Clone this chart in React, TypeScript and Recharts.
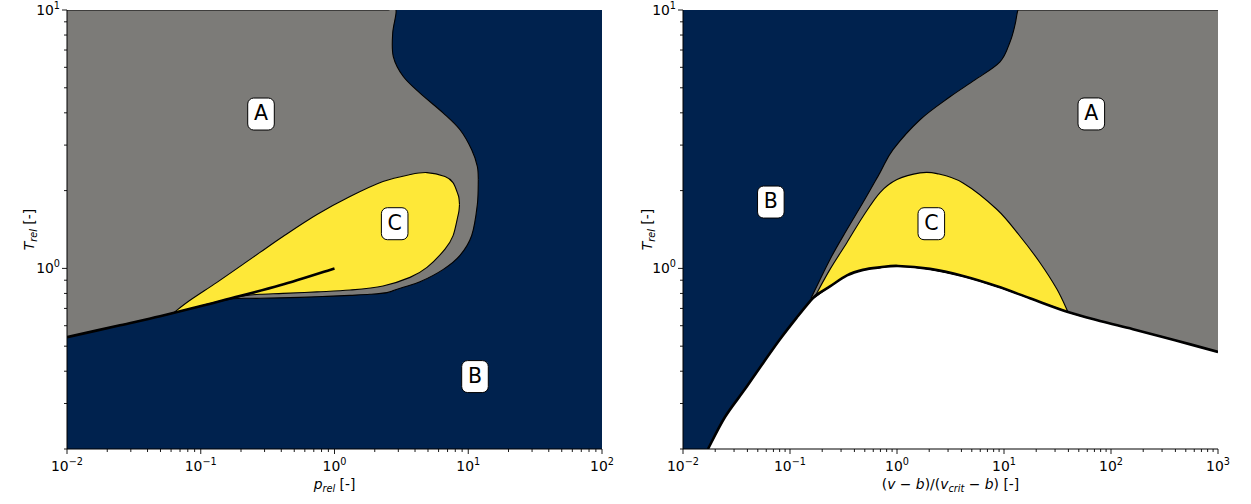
import React from 'react';
import { ComposedChart, Area, Line, Scatter, XAxis, YAxis } from 'recharts';

const NAVY = '#00224e';
const GRAY = '#7c7b78';
const YELLOW = '#fee838';
const FONT = '"DejaVu Sans", sans-serif';
const FS = 13.9;
const FS_SUB = 9.7;

// ---------- axes ----------
const leftXDomain = [0.01, 100];
const rightXDomain = [0.01, 1000];
const yDomain = [0.2, 10];
const leftXMajor = [0.01, 0.1, 1, 10, 100];
const rightXMajor = [0.01, 0.1, 1, 10, 100, 1000];
const yMajor = [0.1, 1, 10];

// ---------- left panel (p_rel, T_rel) ----------
const leftGrayP = [0.01, 0.0249, 0.0496, 0.0987, 0.1742, 0.2773, 0.5522, 0.8788, 1.306, 1.842, 2.469, 2.883, 2.724, 2.752, 3.268, 4.358, 6.509, 8.676, 10.61, 11.69, 11.89];
const leftGrayLow = [0.5417, 0.6024, 0.6527, 0.7133, 0.7625, 0.7659, 0.7727, 0.7796, 0.7866, 0.7937, 0.8056, 0.8276, 0.8194, 0.8209, 0.8446, 0.8869, 0.9911, 1.123, 1.341, 1.766, 2.206];
const leftGrayHigh = [10, 10, 10, 10, 10, 10, 10, 10, 10, 10, 10, 10, 8.151, 6.601, 5.527, 4.769, 3.992, 3.441, 2.88, 2.483, 2.206];

const leftYellowP = [0.06202, 0.08311, 0.1322, 0.2142, 0.2773, 0.4121, 0.7398, 1.306, 2.305, 3.668, 4.916, 6.702, 7.691, 8.383, 8.527, 8.602];
const leftYellowLow = [0.6704, 0.6977, 0.7425, 0.7831, 0.7937, 0.8006, 0.8114, 0.8245, 0.855, 0.9231, 1.009, 1.187, 1.336, 1.602, 1.675, 1.766];
const leftYellowHigh = [0.6704, 0.7524, 0.8829, 1.05, 1.153, 1.329, 1.616, 1.897, 2.168, 2.307, 2.348, 2.266, 2.148, 1.931, 1.863, 1.766];

const leftCoexP = [0.01, 0.0249, 0.0496, 0.0987, 0.1572, 0.3914, 1.0];
const leftCoexT = [0.5417, 0.6024, 0.6527, 0.7133, 0.759, 0.8597, 1.0];

const leftLabels = [
  { x: 0.2822, y: 3.957, label: 'A' },
  { x: 11.23, y: 0.3813, label: 'B' },
  { x: 2.818, y: 1.489, label: 'C' },
];

// ---------- right panel ((v-b)/(v_crit-b), T_rel) ----------
const rightBinodalV = [0.01713, 0.02469, 0.03798, 0.05594, 0.08062, 0.1162, 0.1538, 0.175, 0.2365, 0.3409, 0.481, 0.6938, 1.022, 2.034, 4.139, 8.602, 17.5, 39.63, 78.92, 160.6, 396.3, 1000];
const rightBinodalT = [0.2, 0.2659, 0.341, 0.4297, 0.532, 0.6468, 0.7456, 0.7866, 0.8521, 0.9397, 0.9868, 1.009, 1.022, 0.9956, 0.9338, 0.8521, 0.7659, 0.6779, 0.626, 0.5815, 0.5272, 0.4751];

const rightGrayV = [0.1572, 0.2365, 0.3409, 0.481, 0.6938, 0.9175, 1.641, 3.128, 5.358, 9.175, 11.38, 12.67, 13.52, 14.73, 39.63, 78.92, 160.6, 396.3, 1000];
const rightGrayLow = [0.7524, 0.8521, 0.9397, 0.9868, 1.009, 1.019, 1.004, 0.9573, 0.9044, 0.8437, 0.8175, 0.8042, 0.7967, 0.7874, 0.6779, 0.626, 0.5815, 0.5272, 0.4751];
const rightGrayHigh = [0.7659, 1.083, 1.414, 1.798, 2.348, 2.88, 3.761, 4.614, 5.366, 6.299, 7.522, 8.752, 10, 10, 10, 10, 10, 10, 10];

const rightYellowV = [0.1713, 0.2365, 0.3409, 0.481, 0.6938, 1.0, 1.641, 2.365, 4.139, 8.602, 14.11, 21.7, 31.28, 39.63];
const rightYellowLow = [0.7796, 0.8521, 0.9397, 0.9868, 1.009, 1.021, 1.004, 0.9824, 0.9338, 0.8521, 0.7907, 0.7418, 0.7021, 0.6779];
const rightYellowHigh = [0.7796, 0.9911, 1.26, 1.588, 1.965, 2.206, 2.342, 2.327, 2.142, 1.69, 1.332, 1.052, 0.8297, 0.6779];

const rightLabels = [
  { x: 65.45, y: 3.96, label: 'A' },
  { x: 0.0662, y: 1.806, label: 'B' },
  { x: 2.092, y: 1.489, label: 'C' },
];

// ---------- helpers ----------
const toRange = (xs: number[], lo: number[], hi: number[]) => xs.map((x, i) => ({ x, r: [lo[i], hi[i]] }));
const toLine = (xs: number[], ys: number[]) => xs.map((x, i) => ({ x, y: ys[i] }));
const fullRange = (dom: number[]) => [{ x: dom[0], r: [yDomain[0], yDomain[1]] }, { x: dom[1], r: [yDomain[0], yDomain[1]] }];

const withMinor = (majors: number[], lo: number, hi: number) => {
  const out: number[] = [];
  majors.forEach((m) => {
    for (let k = 1; k < 10; k++) {
      const v = +(m * k).toPrecision(6);
      if (v >= lo * 0.9999 && v <= hi * 1.0001) out.push(v);
    }
  });
  return out;
};

// smooth (Catmull-Rom) curve factory, parametric so it copes with any point order
function smoothCurve(context: any) {
  let pts: number[][] = [];
  let line = NaN;
  return {
    areaStart() { line = 0; },
    areaEnd() { line = NaN; },
    lineStart() { pts = []; },
    lineEnd() {
      const n = pts.length;
      if (n) {
        if (line === 1) context.lineTo(pts[0][0], pts[0][1]);
        else context.moveTo(pts[0][0], pts[0][1]);
        for (let i = 0; i < n - 1; i++) {
          const p0 = pts[Math.max(i - 1, 0)];
          const p1 = pts[i];
          const p2 = pts[i + 1];
          const p3 = pts[Math.min(i + 2, n - 1)];
          context.bezierCurveTo(
            p1[0] + (p2[0] - p0[0]) / 6, p1[1] + (p2[1] - p0[1]) / 6,
            p2[0] - (p3[0] - p1[0]) / 6, p2[1] - (p3[1] - p1[1]) / 6,
            p2[0], p2[1]
          );
        }
      }
      if (line === 1) context.closePath();
      line = 1 - line;
    },
    point(x: number, y: number) { pts.push([+x, +y]); },
  };
}

const isMajor = (v: number) => {
  const e = Math.log10(v);
  return Math.abs(e - Math.round(e)) < 1e-6;
};
const expStr = (v: number) => {
  const e = Math.round(Math.log10(v));
  return e < 0 ? '\u2212' + Math.abs(e) : String(e);
};

const XTick = (props: any) => {
  const { x, y, payload } = props;
  const v = payload.value;
  const major = isMajor(v);
  return (
    <g>
      <line x1={x} x2={x} y1={y} y2={y + (major ? 5 : 3)} stroke="#000" strokeWidth={0.9} />
      {major && (
        <text x={x} y={y + 22} textAnchor="middle" fontFamily={FONT} fontSize={FS} fill="#000">
          10
          <tspan dy={-6} fontSize={FS_SUB}>{expStr(v)}</tspan>
        </text>
      )}
    </g>
  );
};

const YTick = (props: any) => {
  const { x, y, payload } = props;
  const v = payload.value;
  const major = isMajor(v);
  return (
    <g>
      <line x1={x} x2={x - (major ? 5 : 3)} y1={y} y2={y} stroke="#000" strokeWidth={0.9} />
      {major && (
        <text x={x - 7} y={y + 5} textAnchor="end" fontFamily={FONT} fontSize={FS} fill="#000">
          10
          <tspan dy={-6} fontSize={FS_SUB}>{expStr(v)}</tspan>
        </text>
      )}
    </g>
  );
};

const LabelBox = (props: any) => {
  const { cx, cy, payload } = props;
  if (cx == null || cy == null) return null;
  return (
    <g>
      <rect x={cx - 13.3} y={cy - 16} width={26.6} height={32} rx={6} ry={6} fill="#fff" stroke="#000" strokeWidth={1} />
      <text x={cx} y={cy + 6} textAnchor="middle" fontFamily={FONT} fontSize={20.5} fill="#000">
        {payload.label}
      </text>
    </g>
  );
};

const YTitle = ({ x }: { x: number }) => (
  <text transform={`translate(${x},229.5) rotate(-90)`} textAnchor="middle" fontFamily={FONT} fontSize={FS} fill="#000">
    <tspan fontStyle="italic">T</tspan>
    <tspan fontStyle="italic" fontSize={FS_SUB} dy={3}>rel</tspan>
    <tspan dy={-3}> [-]</tspan>
  </text>
);

const LeftXTitle = () => (
  <text x={334.5} y={489} textAnchor="middle" fontFamily={FONT} fontSize={FS} fill="#000">
    <tspan fontStyle="italic">p</tspan>
    <tspan fontStyle="italic" fontSize={FS_SUB} dy={3}>rel</tspan>
    <tspan dy={-3}> [-]</tspan>
  </text>
);

const RightXTitle = () => (
  <text x={330.5} y={489} textAnchor="middle" fontFamily={FONT} fontSize={FS} fill="#000">
    <tspan>(</tspan>
    <tspan fontStyle="italic">v</tspan>
    <tspan> {'\u2212'} </tspan>
    <tspan fontStyle="italic">b</tspan>
    <tspan>)/(</tspan>
    <tspan fontStyle="italic">v</tspan>
    <tspan fontStyle="italic" fontSize={FS_SUB} dy={3}>crit</tspan>
    <tspan dy={-3}> {'\u2212'} </tspan>
    <tspan fontStyle="italic">b</tspan>
    <tspan>) [-]</tspan>
  </text>
);

const thin = { stroke: '#000', strokeWidth: 1.1 };

function LeftPanel() {
  const xTicks = withMinor(leftXMajor, leftXDomain[0], leftXDomain[1]);
  const yTicks = withMinor(yMajor, yDomain[0], yDomain[1]);
  return (
    <ComposedChart width={620} height={504} margin={{ top: 10, right: 18, bottom: 0, left: 0 }}>
      <Area data={fullRange(leftXDomain)} dataKey="r" type="linear" fill={NAVY} fillOpacity={1} stroke="none" isAnimationActive={false} />
      <Area data={toRange(leftGrayP, leftGrayLow, leftGrayHigh)} dataKey="r" type={smoothCurve as any} fill={GRAY} fillOpacity={1} {...thin} isAnimationActive={false} />
      <Area data={toRange(leftYellowP, leftYellowLow, leftYellowHigh)} dataKey="r" type={smoothCurve as any} fill={YELLOW} fillOpacity={1} {...thin} isAnimationActive={false} />
      <Line data={toLine(leftCoexP, leftCoexT)} dataKey="y" type={smoothCurve as any} stroke="#000" strokeWidth={2.6} dot={false} isAnimationActive={false} />
      <Scatter data={leftLabels} dataKey="y" shape={(p: any) => <LabelBox {...p} />} isAnimationActive={false} />
      <XAxis dataKey="x" type="number" scale="log" domain={leftXDomain} allowDataOverflow ticks={xTicks} interval={0}
        tick={<XTick />} tickLine={false} tickSize={0} tickMargin={0} height={55}
        axisLine={{ stroke: '#000', strokeWidth: 1 }} label={<LeftXTitle />} />
      <XAxis xAxisId="top" orientation="top" type="number" scale="log" domain={leftXDomain} allowDataOverflow
        tick={false} tickLine={false} height={0} axisLine={{ stroke: '#000', strokeWidth: 1 }} />
      <YAxis type="number" scale="log" domain={yDomain} allowDataOverflow ticks={yTicks} interval={0}
        tick={<YTick />} tickLine={false} tickSize={0} tickMargin={0} width={67}
        axisLine={{ stroke: '#000', strokeWidth: 1 }} label={<YTitle x={21.5} />} />
      <YAxis yAxisId="right" orientation="right" type="number" scale="log" domain={yDomain} allowDataOverflow
        tick={false} tickLine={false} width={0} axisLine={{ stroke: '#000', strokeWidth: 1 }} />
    </ComposedChart>
  );
}

function RightPanel() {
  const xTicks = withMinor(rightXMajor, rightXDomain[0], rightXDomain[1]);
  const yTicks = withMinor(yMajor, yDomain[0], yDomain[1]);
  const whiteLow = rightBinodalV.map(() => yDomain[0]);
  return (
    <ComposedChart width={631} height={504} margin={{ top: 10, right: 33, bottom: 0, left: 0 }}>
      <Area data={fullRange(rightXDomain)} dataKey="r" type="linear" fill={NAVY} fillOpacity={1} stroke="none" isAnimationActive={false} />
      <Area data={toRange(rightBinodalV, whiteLow, rightBinodalT)} dataKey="r" type={smoothCurve as any} fill="#ffffff" fillOpacity={1} stroke="none" isAnimationActive={false} />
      <Area data={toRange(rightGrayV, rightGrayLow, rightGrayHigh)} dataKey="r" type={smoothCurve as any} fill={GRAY} fillOpacity={1} {...thin} isAnimationActive={false} />
      <Area data={toRange(rightYellowV, rightYellowLow, rightYellowHigh)} dataKey="r" type={smoothCurve as any} fill={YELLOW} fillOpacity={1} {...thin} isAnimationActive={false} />
      <Line data={toLine(rightBinodalV, rightBinodalT)} dataKey="y" type={smoothCurve as any} stroke="#000" strokeWidth={2.6} dot={false} isAnimationActive={false} />
      <Scatter data={rightLabels} dataKey="y" shape={(p: any) => <LabelBox {...p} />} isAnimationActive={false} />
      <XAxis dataKey="x" type="number" scale="log" domain={rightXDomain} allowDataOverflow ticks={xTicks} interval={0}
        tick={<XTick />} tickLine={false} tickSize={0} tickMargin={0} height={55}
        axisLine={{ stroke: '#000', strokeWidth: 1 }} label={<RightXTitle />} />
      <XAxis xAxisId="top" orientation="top" type="number" scale="log" domain={rightXDomain} allowDataOverflow
        tick={false} tickLine={false} height={0} axisLine={{ stroke: '#000', strokeWidth: 1 }} />
      <YAxis type="number" scale="log" domain={yDomain} allowDataOverflow ticks={yTicks} interval={0}
        tick={<YTick />} tickLine={false} tickSize={0} tickMargin={0} width={63}
        axisLine={{ stroke: '#000', strokeWidth: 1 }} label={<YTitle x={20} />} />
      <YAxis yAxisId="right" orientation="right" type="number" scale="log" domain={yDomain} allowDataOverflow
        tick={false} tickLine={false} width={0} axisLine={{ stroke: '#000', strokeWidth: 1 }} />
    </ComposedChart>
  );
}

export default function App() {
  return (
    <div style={{ position: 'absolute', left: 0, top: 0, width: 1251, height: 504, background: '#fff' }}>
      <div style={{ position: 'absolute', left: 0, top: 0, width: 620, height: 504 }}>
        <LeftPanel />
      </div>
      <div style={{ position: 'absolute', left: 620, top: 0, width: 631, height: 504 }}>
        <RightPanel />
      </div>
    </div>
  );
}
